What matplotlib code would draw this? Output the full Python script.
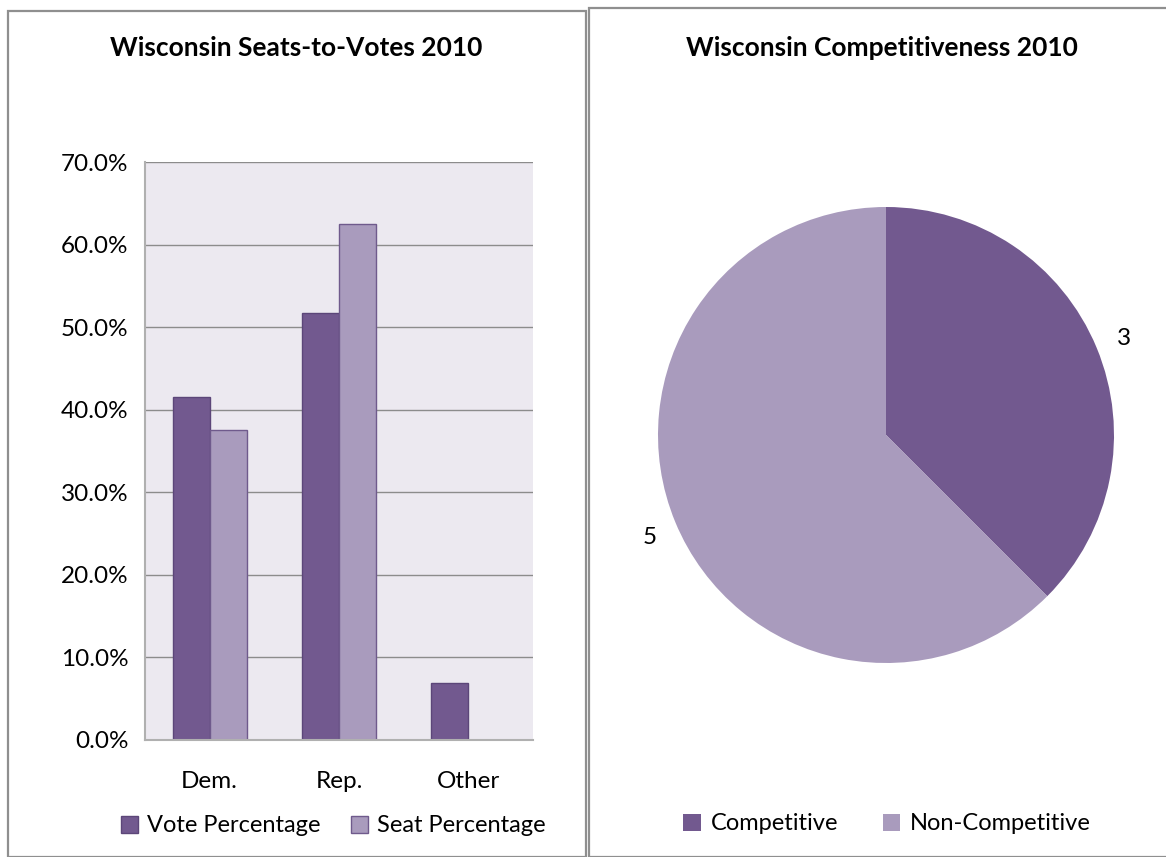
import numpy as np, matplotlib; matplotlib.use("Agg")
import matplotlib.pyplot as plt
from matplotlib.patches import Rectangle, Patch

plt.rcParams["font.family"] = ["Lato", "DejaVu Sans"]

# data
parties = ["Dem.", "Rep.", "Other"]
vote_pct = [41.5, 51.7, 6.9]
seat_pct = [37.5, 62.5, 0.0]
pie_labels = ["Competitive", "Non-Competitive"]
pie_counts = [3, 5]

dark = "#72598f"; light = "#a99bbd"
edge_dark = "#5c4679"; edge_light = "#6f5a8c"
W, H = 1166, 857
fs = 17.5
fig = plt.figure(figsize=(W/100, H/100), dpi=100)

# panel frames
fig.patches.append(Rectangle((8/W, 0), (586-8)/W, (H-11)/H, transform=fig.transFigure,
                             fill=False, ec="#8f8f8f", lw=1.6))
fig.patches.append(Rectangle((589/W, 0), (W+10-589)/W, (H-8)/H, transform=fig.transFigure,
                             fill=False, ec="#8f8f8f", lw=1.6))

# bar chart
ax = fig.add_axes([145/W, 1-740/H, (533-145)/W, (740-162)/H])
ax.set_facecolor("#ece9f0")
x = np.arange(len(parties))
bw = 1/3.5
ax.bar(x - bw/2, vote_pct, bw, color=dark, ec=edge_dark, lw=1, zorder=3, label="Vote Percentage")
ax.bar(x + bw/2, seat_pct, bw, color=light, ec=edge_light, lw=1, zorder=3, label="Seat Percentage")
ax.set_xlim(-0.5, 2.5); ax.set_ylim(0, 70)
ax.set_yticks(np.arange(0, 71, 10))
ax.set_yticklabels([f"{v:.1f}%" for v in np.arange(0, 71, 10)], fontsize=fs)
ax.set_xticks(x); ax.set_xticklabels(parties, fontsize=fs)
ax.tick_params(length=0, pad=12)
ax.tick_params(axis="x", pad=22)
ax.grid(axis="y", color="#8c8c8c", lw=1, zorder=1)
for s in ["top", "right"]:
    ax.spines[s].set_visible(False)
for s in ["left", "bottom"]:
    ax.spines[s].set_color("#b0b0b0"); ax.spines[s].set_linewidth(1.5)
ax.spines["left"].set_zorder(4); ax.spines["bottom"].set_zorder(4)
fig.text(296/W, 1-48/H, "Wisconsin Seats-to-Votes 2010", ha="center", va="center",
         fontsize=19, fontweight="bold")
fig.legend(handles=[Patch(fc=dark, ec=edge_dark), Patch(fc=light, ec=edge_light)],
           labels=["Vote Percentage", "Seat Percentage"], loc="center",
           bbox_to_anchor=(333/W, 1-826/H), ncol=2, frameon=False, fontsize=17,
           handlelength=0.75, handleheight=0.75, handletextpad=0.35, columnspacing=1.3)

# pie chart
R = 228
pax = fig.add_axes([(886-R)/W, 1-(435+R)/H, 2*R/W, 2*R/H])
wedges, _ = pax.pie(pie_counts, colors=[dark, light], startangle=90, counterclock=False,
                    radius=1, wedgeprops=dict(lw=0))
pax.set_xlim(-1, 1); pax.set_ylim(-1, 1); pax.set_aspect("auto")
fig.text(1124/W, 1-338/H, str(pie_counts[0]), ha="center", va="center", fontsize=fs)
fig.text(650/W, 1-537/H, str(pie_counts[1]), ha="center", va="center", fontsize=fs)
fig.text(882/W, 1-48/H, "Wisconsin Competitiveness 2010", ha="center", va="center",
         fontsize=19, fontweight="bold")
fig.legend(handles=[Patch(fc=dark), Patch(fc=light)], labels=pie_labels, loc="center",
           bbox_to_anchor=(887/W, 1-824/H), ncol=2, frameon=False, fontsize=17,
           handlelength=0.75, handleheight=0.75, handletextpad=0.4, columnspacing=1.9)

fig.savefig("out.png", dpi=100)
